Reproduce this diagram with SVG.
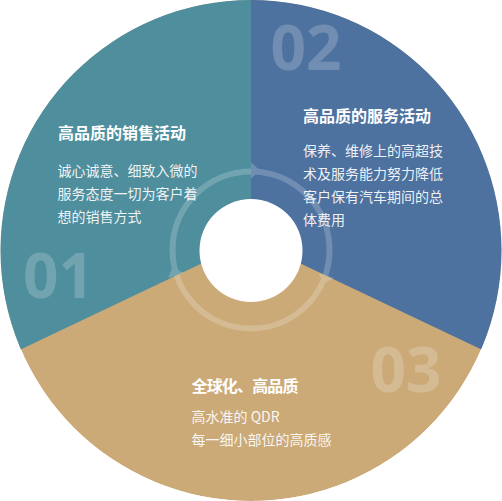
<svg xmlns="http://www.w3.org/2000/svg" width="502" height="501" viewBox="0 0 502 501">
  <defs>
    <clipPath id="disc">
      <circle cx="251" cy="250.5" r="250.5"/>
    </clipPath>
    <style>
      .num { font-family: "Open Sans", "Liberation Sans", sans-serif; font-weight: 700; font-size: 62px; fill: #ffffff; fill-opacity: 0.2; }
      .title { font-family: "Noto Sans CJK SC", "Noto Sans", sans-serif; font-weight: 700; font-size: 16px; fill: #ffffff; }
      .body { font-family: "Noto Sans CJK SC", "Noto Sans", sans-serif; font-size: 14px; fill: #ffffff; fill-opacity: 0.92; }
    </style>
  </defs>
  <rect width="502" height="501" fill="#ffffff"/>
  <g clip-path="url(#disc)">
    <g id="seg3">
      <circle cx="251" cy="250.5" r="250.5" fill="#CBAA78"/>
    </g>
    <g id="seg1">
      <polygon points="251,240 251,-10 -10,-10 -10,364" fill="#4F8E9D"/>
    </g>
    <g id="seg2">
      <polygon points="251,240 251,-10 512,-10 512,364" fill="#4E729F"/>
    </g>
  </g>
  <g id="connectors" fill="#ffffff" opacity="0.2">
    <circle cx="251" cy="250" r="78.5" fill="none" stroke="#ffffff" stroke-width="6"/>
    <polygon points="251,162.5 251,178.5 260,170.5"/>
    <polygon points="251,162.5 251,178.5 260,170.5" transform="rotate(108.7 251 250)"/>
    <polygon points="251,162.5 251,178.5 260,170.5" transform="rotate(251.3 251 250)"/>
  </g>
  <circle cx="251" cy="250.5" r="51.5" fill="#ffffff"/>
  <g id="node1">
    <text class="num" x="23" y="297.5">01</text>
    <text class="title" x="58" y="139">高品质的销售活动</text>
    <text class="body" x="57.5" y="175.5">诚心诚意、细致入微的</text>
    <text class="body" x="57.5" y="198.5">服务态度一切为客户着</text>
    <text class="body" x="57.5" y="221.5">想的销售方式</text>
  </g>
  <g id="node2">
    <text class="num" x="270.5" y="70">02</text>
    <text class="title" x="303" y="122">高品质的服务活动</text>
    <text class="body" x="303" y="155.5">保养、维修上的高超技</text>
    <text class="body" x="303" y="178.5">术及服务能力努力降低</text>
    <text class="body" x="303" y="201.5">客户保有汽车期间的总</text>
    <text class="body" x="303" y="224.5">体费用</text>
  </g>
  <g id="node3">
    <text class="num" x="370.5" y="391.5">03</text>
    <text class="title" x="191.5" y="392" textLength="107" lengthAdjust="spacing">全球化、高品质</text>
    <text class="body" x="191.5" y="422">高水准的 QDR</text>
    <text class="body" x="191.5" y="444.5">每一细小部位的高质感</text>
  </g>
</svg>
